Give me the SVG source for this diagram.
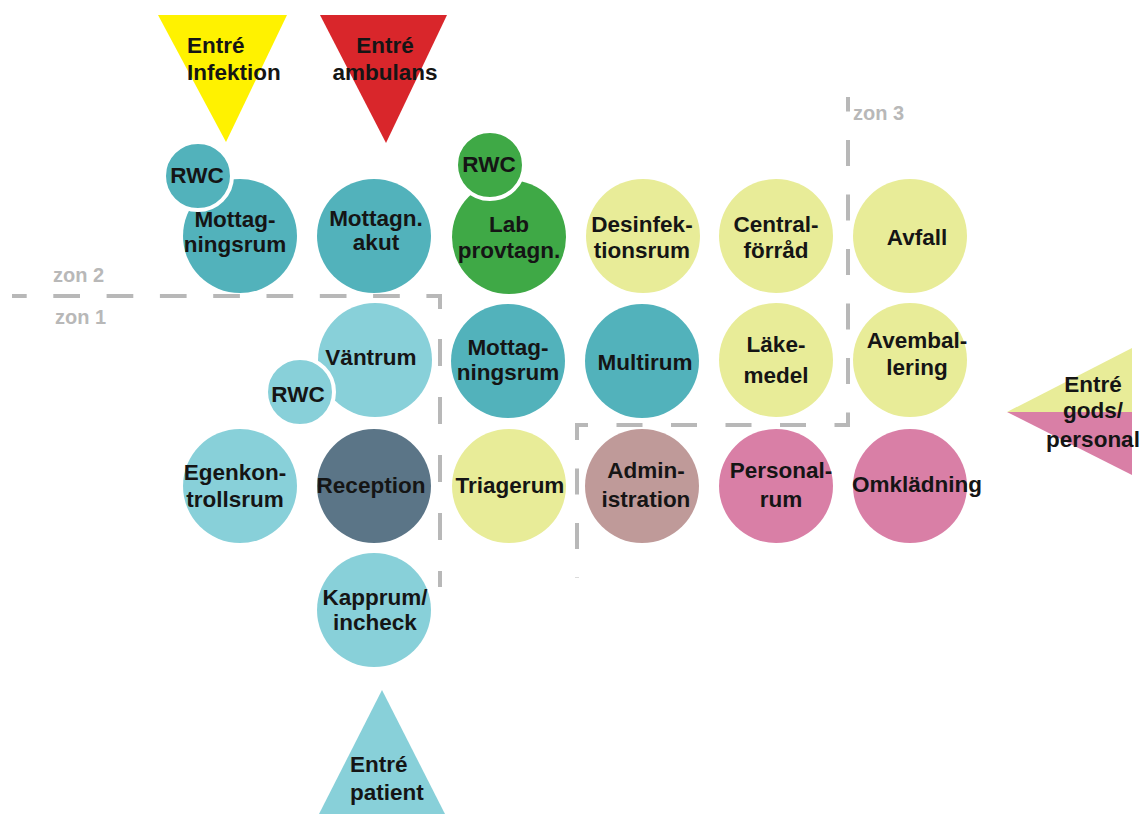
<svg xmlns="http://www.w3.org/2000/svg" width="1148" height="814" viewBox="0 0 1148 814">
  <style>
    text { font-family: "Liberation Sans", Arial, sans-serif; font-weight: bold; font-size: 22.5px; fill: #151515; text-anchor: middle; }
    .zon { fill: #b8b8b8; font-size: 20px; text-anchor: start; }
    .left { text-anchor: start; }
    .teal { fill: #52b2bb; }
    .light { fill: #88d0d9; }
    .green { fill: #3fa946; }
    .lime { fill: #e8ec98; }
    .pink { fill: #d97fa6; }
    .mauve { fill: #bf9a99; }
    .slate { fill: #5b7587; }
    .rwc { stroke: #ffffff; stroke-width: 4; }
    .zone { fill: none; stroke: #b8b8b8; stroke-width: 4; }
  </style>
  <rect width="1148" height="814" fill="#ffffff"/>

  <!-- zone boundaries -->
  <g id="zones">
    <path class="zone" d="M12,296 H440 V312" stroke-dasharray="26.7 26.6" stroke-dashoffset="12"/>
    <path class="zone" d="M440,339 V587" stroke-dasharray="27 31"/>
    <path class="zone" d="M848,97 V425 H577 V578" stroke-dasharray="26 28.5" stroke-dashoffset="11.5"/>
    <text class="zon" x="53" y="282">zon 2</text>
    <text class="zon" x="55" y="324">zon 1</text>
    <text class="zon" x="853" y="120">zon 3</text>
  </g>

  <!-- entrances -->
  <g id="entre-infektion">
    <polygon points="158,15 287,15 226,142" fill="#fff200"/>
    <text class="left" x="187" y="53">Entré</text>
    <text class="left" x="187" y="80">Infektion</text>
  </g>
  <g id="entre-ambulans">
    <polygon points="320,15 447,15 386,143" fill="#d9262b"/>
    <text x="385" y="53">Entré</text>
    <text x="385" y="80">ambulans</text>
  </g>
  <g id="entre-patient">
    <polygon points="382,690 446,816 318,816" fill="#88d0d9"/>
    <text class="left" x="350" y="772">Entré</text>
    <text class="left" x="350" y="800">patient</text>
  </g>
  <g id="entre-gods">
    <polygon points="1007,412 1132,348 1132,412" fill="#e8ec98"/>
    <polygon points="1007,412 1132,412 1132,475" fill="#d97fa6"/>
    <text x="1093" y="392">Entré</text>
    <text x="1093" y="418">gods/</text>
    <text x="1093" y="447">personal</text>
  </g>

  <!-- zon 2 -->
  <g id="mottagningsrum-infektion">
    <circle class="teal" cx="240" cy="236" r="57"/>
    <text x="235" y="227">Mottag-</text>
    <text x="235" y="252">ningsrum</text>
  </g>
  <g id="rwc-infektion">
    <circle class="teal rwc" cx="198" cy="176" r="34"/>
    <text x="197" y="183">RWC</text>
  </g>
  <g id="mottagn-akut">
    <circle class="teal" cx="374" cy="236" r="57"/>
    <text x="376" y="226">Mottagn.</text>
    <text x="376" y="250">akut</text>
  </g>

  <!-- zon 1 -->
  <g id="vantrum">
    <circle class="light" cx="375" cy="360" r="57"/>
    <text x="371" y="365">Väntrum</text>
  </g>
  <g id="rwc-vantrum">
    <circle class="light rwc" cx="300" cy="392" r="34"/>
    <text x="298" y="402">RWC</text>
  </g>
  <g id="egenkontrollsrum">
    <circle class="light" cx="240" cy="486" r="57"/>
    <text x="235" y="480">Egenkon-</text>
    <text x="235" y="507">trollsrum</text>
  </g>
  <g id="reception">
    <circle class="slate" cx="374" cy="486" r="57"/>
    <text x="371" y="493">Reception</text>
  </g>
  <g id="kapprum">
    <circle class="light" cx="374" cy="610" r="57"/>
    <text x="375" y="605">Kapprum/</text>
    <text x="375" y="630">incheck</text>
  </g>

  <!-- central block -->
  <g id="lab">
    <circle class="green" cx="509" cy="237" r="57"/>
    <text x="509" y="232">Lab</text>
    <text x="509" y="258">provtagn.</text>
  </g>
  <g id="rwc-lab">
    <circle class="green rwc" cx="490" cy="165" r="34"/>
    <text x="489" y="172">RWC</text>
  </g>
  <g id="desinfektionsrum">
    <circle class="lime" cx="643" cy="236" r="57"/>
    <text x="642" y="232">Desinfek-</text>
    <text x="642" y="258">tionsrum</text>
  </g>
  <g id="centralforrad">
    <circle class="lime" cx="776" cy="236" r="57"/>
    <text x="776" y="232">Central-</text>
    <text x="776" y="258">förråd</text>
  </g>
  <g id="mottagningsrum">
    <circle class="teal" cx="508" cy="361" r="57"/>
    <text x="508" y="355">Mottag-</text>
    <text x="508" y="380">ningsrum</text>
  </g>
  <g id="multirum">
    <circle class="teal" cx="642" cy="361" r="57"/>
    <text x="645" y="370">Multirum</text>
  </g>
  <g id="lakemedel">
    <circle class="lime" cx="776" cy="360" r="57"/>
    <text x="776" y="352">Läke-</text>
    <text x="776" y="383">medel</text>
  </g>
  <g id="triagerum">
    <circle class="lime" cx="509" cy="486" r="57"/>
    <text x="510" y="493">Triagerum</text>
  </g>
  <g id="administration">
    <circle class="mauve" cx="642" cy="486" r="57"/>
    <text x="646" y="478">Admin-</text>
    <text x="646" y="507">istration</text>
  </g>
  <g id="personalrum">
    <circle class="pink" cx="776" cy="486" r="57"/>
    <text x="781" y="478">Personal-</text>
    <text x="781" y="507">rum</text>
  </g>

  <!-- zon 3 -->
  <g id="avfall">
    <circle class="lime" cx="910" cy="236" r="57"/>
    <text x="917" y="245">Avfall</text>
  </g>
  <g id="avemballering">
    <circle class="lime" cx="910" cy="360" r="57"/>
    <text x="917" y="348">Avembal-</text>
    <text x="917" y="375">lering</text>
  </g>
  <g id="omkladning">
    <circle class="pink" cx="910" cy="486" r="57"/>
    <text x="917" y="492">Omklädning</text>
  </g>

  <g id="connectors"/>
</svg>
